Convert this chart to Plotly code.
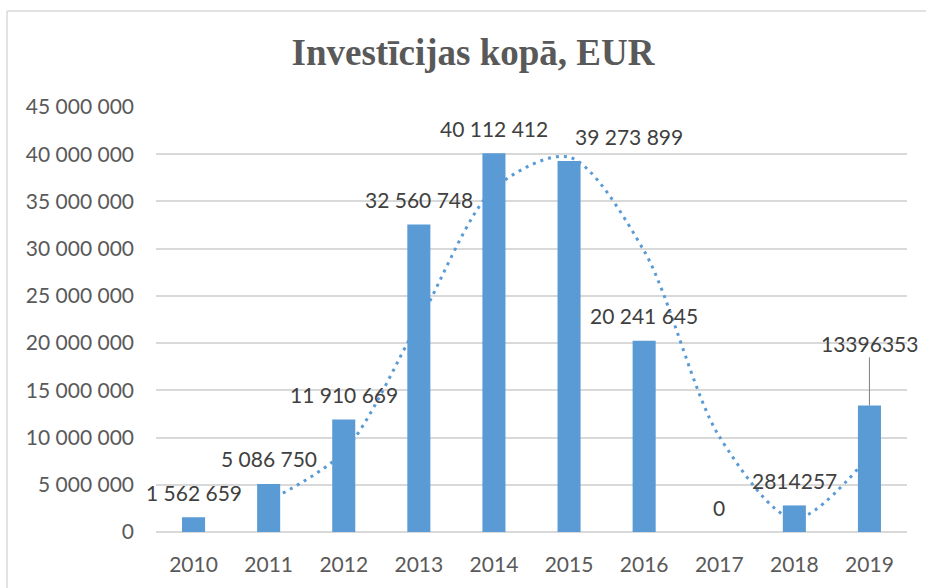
import plotly.graph_objects as go

years = ["2010", "2011", "2012", "2013", "2014", "2015", "2016", "2017", "2018", "2019"]
investments = [1562659, 5086750, 11910669, 32560748, 40112412, 39273899, 20241645, 0, 2814257, 13396353]
# label grouping style per point (Excel showed last two without thousands separators)
label_grouped = [True, True, True, True, True, True, True, True, False, False]
# moving-average trend line (2-period)
trend_years = ["2011", "2012", "2013", "2014", "2015", "2016", "2017", "2018", "2019"]
trend_values = [3320000, 8500000, 22240000, 36340000, 39690000, 29760000, 10120000, 1410000, 8110000]

BAR = "#5B9BD5"
GRID = "#D9D9D9"
TICK = "#595959"
LABEL = "#404040"
FONT = "Lato"
FS = 21

fig = go.Figure()

# trend line drawn on the base subplot (behind bars)
fig.add_trace(go.Scatter(
    x=trend_years, y=trend_values, mode="lines",
    line=dict(color=BAR, width=3, dash="3px,5px", shape="spline", smoothing=0.85),
    xaxis="x", yaxis="y", showlegend=False, hoverinfo="skip"))

# bars on an overlaying subplot so they cover the trend line
fig.add_trace(go.Bar(
    x=years, y=investments, marker=dict(color=BAR, line=dict(width=0)),
    xaxis="x2", yaxis="y2", showlegend=False))

annotations = []
for i, (yr, v) in enumerate(zip(years, investments)):
    txt = f"{v:,}".replace(",", " ") if label_grouped[i] else str(v)
    a = dict(x=i, y=v, xref="x2", yref="y2", text=txt, showarrow=False,
             font=dict(family=FONT, size=FS, color=LABEL),
             xanchor="center", yanchor="middle", yshift=25)
    if yr == "2015":
        a["xshift"] = 60
    if yr == "2019":
        a.update(showarrow=True, ax=0, ay=-62, arrowhead=0, arrowwidth=1,
                 arrowcolor="#7F7F7F", standoff=0, yshift=0)
    annotations.append(go.layout.Annotation(**a))

axis_common = dict(type="category", categoryorder="array", categoryarray=years,
                   range=[-0.5, 9.5])
fig.update_layout(
    width=926, height=588,
    margin=dict(l=156, r=19, t=107, b=56),
    paper_bgcolor="white", plot_bgcolor="white",
    separators=". ",
    bargap=0.693,
    title=dict(text="<b>Investīcijas kopā, EUR</b>", x=473 / 926, xanchor="center",
               y=1 - 52 / 588, yanchor="middle", yref="container",
               font=dict(family="Liberation Serif", size=37, color=TICK)),
    xaxis=dict(**axis_common, showgrid=False, showline=False, zeroline=False,
               ticks="", tickfont=dict(family=FONT, size=FS, color=TICK),
               ticklabelstandoff=18),
    yaxis=dict(range=[0, 45000000], dtick=5000000, tickformat=",d",
               showgrid=True, gridcolor=GRID, gridwidth=1.5,
               zeroline=True, zerolinecolor=GRID, zerolinewidth=1.5,
               showline=False, ticks="",
               tickfont=dict(family=FONT, size=FS, color=TICK),
               ticklabelstandoff=21),
    xaxis2=dict(**axis_common, overlaying="x", showticklabels=False, showgrid=False,
                zeroline=False, showline=False, ticks=""),
    yaxis2=dict(range=[0, 45000000], overlaying="y", showticklabels=False, showgrid=False,
                zeroline=False, showline=False, ticks=""),
    annotations=annotations,
    shapes=[
        dict(type="line", xref="paper", yref="paper", x0=(7 - 156) / 751, x1=(7 - 156) / 751,
             y0=-0.3, y1=(532 - 11) / 425, line=dict(color=GRID, width=1.5)),
        dict(type="line", xref="paper", yref="paper", x0=(7 - 156) / 751, x1=1.1,
             y0=(532 - 11) / 425, y1=(532 - 11) / 425, line=dict(color=GRID, width=1.5)),
    ],
)

fig.write_html("out.html", config={"displayModeBar": False},
               post_script="document.body.style.margin='0';")
